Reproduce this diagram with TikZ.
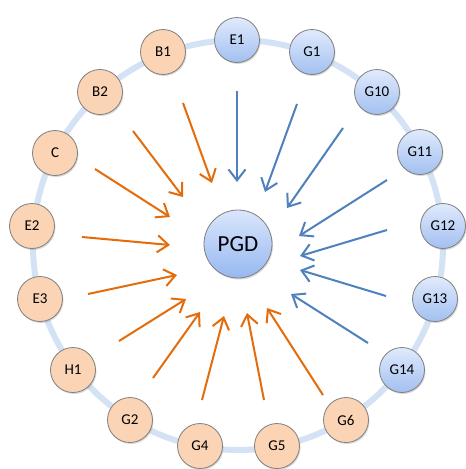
\documentclass[tikz,border=0pt]{standalone}
\usepackage{fontspec}
\setmainfont{Carlito}
\usetikzlibrary{arrows.meta,shadows}
\definecolor{ringc}{RGB}{212,226,246}
\definecolor{orfill}{RGB}{250,212,180}
\definecolor{blutop}{RGB}{224,234,252}
\definecolor{blubot}{RGB}{162,192,240}
\definecolor{arrO}{RGB}{228,108,10}
\definecolor{arrB}{RGB}{79,129,189}
\definecolor{bord}{RGB}{128,128,128}
\tikzset{
  base/.style={circle, draw=bord, line width=0.8pt, minimum size=45pt, inner sep=0pt,
    font=\fontsize{15}{15}\selectfont,
    drop shadow={opacity=0.3, shadow xshift=1pt, shadow yshift=-1.5pt}},
  onode/.style={base, fill=orfill},
  bnode/.style={base, top color=blutop, bottom color=blubot},
  centre/.style={base, minimum size=68pt, font=\fontsize{23}{23}\selectfont,
    top color={rgb,255:red,218;green,230;blue,252}, bottom color={rgb,255:red,150;green,184;blue,240}},
  ringline/.style={draw=ringc, line width=6pt},
  oarr/.style={draw=arrO, line width=2pt, -{Straight Barb[length=11pt,width=17pt]}},
  barr/.style={draw=arrB, line width=2pt, -{Straight Barb[length=11pt,width=17pt]}},
}
\begin{document}
\begin{tikzpicture}[x=1pt,y=-1pt]
\useasboundingbox (0,0) rectangle (466,469);
\fill[white] (0,0) rectangle (466,469);
\draw[ringline] (238,245) circle[radius=205pt];
% outer nodes
\node[bnode] (E1)  at (237,40)  {E1};
\node[bnode] (G1)  at (312,52)  {G1};
\node[bnode] (G10) at (377,92)  {G10};
\node[bnode] (G11) at (420,152) {G11};
\node[bnode] (G12) at (443,226) {G12};
\node[bnode] (G13) at (435,299) {G13};
\node[bnode] (G14) at (402,370) {G14};
\node[onode] (G6)  at (346,420) {G6};
\node[onode] (G5)  at (277,446) {G5};
\node[onode] (G4)  at (200,446) {G4};
\node[onode] (G2)  at (130,420) {G2};
\node[onode] (H1)  at (73,370)  {H1};
\node[onode] (E3)  at (40,299)  {E3};
\node[onode] (E2)  at (32,226)  {E2};
\node[onode] (C)   at (55,153)  {C};
\node[onode] (B2)  at (100,92)  {B2};
\node[onode] (B1)  at (163,52)  {B1};
\node[centre] (PGD) at (238,244) {PGD};
% arrow end points
\coordinate (s1) at (183,103);  \coordinate (t1) at (212,183);
\coordinate (s2) at (133,131);  \coordinate (t2) at (183,197);
\coordinate (s3) at (95,169);   \coordinate (t3) at (170,217);
\coordinate (s4) at (82,237);   \coordinate (t4) at (170,245);
\coordinate (s5) at (88,294);   \coordinate (t5) at (177,275);
\coordinate (s6) at (119,341);  \coordinate (t6) at (186,299);
\coordinate (s7) at (153,378);  \coordinate (t7) at (200,312);
\coordinate (s8) at (202,400);  \coordinate (t8) at (224,316);
\coordinate (s9) at (264,400);  \coordinate (t9) at (247,313);
\coordinate (s10) at (323,395); \coordinate (t10) at (267,308);
\coordinate (s11) at (237,91);  \coordinate (t11) at (237,182);
\coordinate (s12) at (297,104); \coordinate (t12) at (265,192);
\coordinate (s13) at (343,128); \coordinate (t13) at (287,208);
\coordinate (s14) at (387,180); \coordinate (t14) at (299,236);
\coordinate (s15) at (387,230); \coordinate (t15) at (300,256);
\coordinate (s16) at (386,296); \coordinate (t16) at (300,270);
\coordinate (s17) at (368,343); \coordinate (t17) at (291,294);
\foreach \i in {1,...,10} {\draw[oarr] (s\i) -- (t\i);}
\foreach \i in {11,...,17} {\draw[barr] (s\i) -- (t\i);}
\end{tikzpicture}
\end{document}
